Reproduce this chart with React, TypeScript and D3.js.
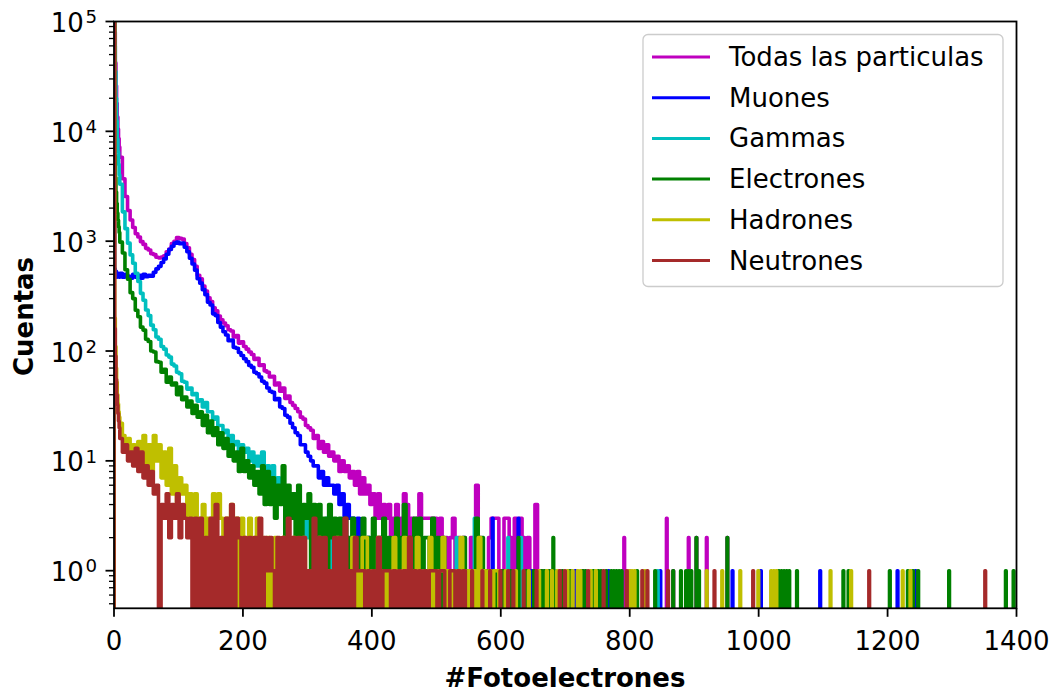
import React from "react";
import * as d3 from "d3";

// Photoelectron spectrum per particle type, step histograms on a log count axis.
const W = 1055;
const H = 692;
const plot = { left: 114, right: 1016.5, top: 21.5, bottom: 608.3 };

const xTicks = [0, 200, 400, 600, 800, 1000, 1200, 1400];
const yDecades = [0, 1, 2, 3, 4, 5];

// Head bins: bin 0 is the zero-photoelectron bin [0,1), bins 1..8 are 1 PE wide,
// from 9 PE onward the bins are 4 PE wide.
// Tail entries are single-PE bins [pe, pe+1) holding isolated counts.
const fineBins = 9;
const binWidth = 4;
const xMax = 1400;

const todasHead = [
  420000,
  80000, 42000, 26000, 18000, 13500, 10500, 8600, 7200,
  5800, 3700, 2550, 1900, 1560, 1330, 1170, 1090,
  990, 935, 860, 830, 770, 755, 715, 705, 718, 735,
  800, 850, 950, 1000, 1080, 1060, 1045, 950, 870, 760,
  680, 590, 490, 455, 390, 352, 305, 282, 248, 232,
  208, 192, 180, 170, 156, 152, 134, 138, 118, 121,
  110, 104, 98, 93, 84, 86, 74, 75, 66, 64,
  58, 59, 49, 51, 43, 46, 37, 39, 34, 32,
  30, 28, 25, 24, 21, 20, 19, 16, 17, 13,
  15, 12, 14, 11, 12, 10, 11, 8, 10, 8,
  9, 7, 8, 6, 8, 5, 7, 5, 6, 4,
  5, 3, 5, 3, 4, 3, 4, 2, 3, 4,
  2, 3, 5, 4, 2, 3, 2, 3, 5, 3,
  3, 3, 3, 3, 3, 2, 3, 1, 2, 1,
  2, 3, 1, 2, 1, 2, 1, 1, 2, 1,
  6, 2, 1, 1, 1, 2, 3, 3, 3, 1,
  1, 3, 3, 2, 1, 3, 1, 3, 2, 1,
  2, 1, 1, 4, 1, 1,
];
const todasTail: [number, number][] = [
  [675, 1], [691, 1], [707, 1], [727, 1], [791, 2], [799, 1], [857, 3],
  [867, 1], [891, 2], [903, 2], [919, 2], [951, 2],
];

const muonesHead = [
  130000,
  560, 490, 530, 470, 510, 480, 500, 470,
  510, 470, 500, 480, 460, 500, 470, 490,
  460, 500, 475, 490, 480, 520, 560, 590, 640, 690,
  760, 840, 900, 960, 980, 950, 960, 880, 800, 700,
  620, 545, 455, 415, 362, 326, 278, 262, 218, 210,
  182, 165, 150, 140, 124, 126, 108, 106, 97, 91,
  85, 80, 74, 71, 64, 62, 58, 53, 51, 46,
  43, 42, 36, 37, 31, 30, 26, 25, 22, 20,
  18, 17, 14, 14, 12, 11, 10, 9, 9, 7,
  8, 6, 7, 6, 6, 5, 6, 4, 5, 3,
  4, 3, 3, 2, 3, 2, 2, 1, 2, 1,
  2, 1, 0, 2, 1, 1, 0, 1, 2, 0, 1, 0, 1, 0, 1,
];
const muonesTail: [number, number][] = [
  [471, 1], [495, 1], [519, 1], [587, 3], [627, 3], [647, 1], [715, 1],
  [767, 1], [847, 1], [959, 1], [1003, 1], [1095, 1], [1215, 1], [1243, 1],
];

const gammasHead = [
  210000,
  60000, 35000, 20000, 12500, 8500, 6500, 5000, 4000,
  3300, 1850, 1300, 960, 750, 630, 510, 430,
  335, 290, 236, 210, 172, 156, 134, 128, 110, 104,
  92, 88, 76, 73, 64, 62, 53, 52, 45, 46,
  40, 41, 35, 36, 31, 34, 28, 28, 24, 25,
  21, 21, 18, 19, 15, 17, 14, 15, 12, 14,
  12, 13, 10, 12, 9, 11, 9, 12, 8, 9,
  7, 9, 6, 7, 5, 6, 4, 5, 4, 5,
  3, 4, 3, 2, 3, 2, 3, 2, 1, 2,
  2, 1, 3, 1, 2, 0, 1, 2, 1, 0,
  2, 1, 0, 1, 1, 0, 1, 0, 1, 0,
];
const gammasTail: [number, number][] = [
  [423, 1], [443, 2], [471, 1], [503, 1], [531, 2], [559, 3], [591, 1],
  [611, 2], [631, 2], [683, 1], [843, 1],
];

const electronesHead = [
  150000,
  6000, 3800, 2800, 2200, 1800, 1550, 1350, 1200,
  980, 780, 550, 450, 340, 300, 235, 205,
  165, 155, 128, 122, 100, 98, 80, 79, 64, 68,
  52, 58, 49, 51, 40, 47, 36, 38, 31, 35,
  27, 32, 25, 28, 21, 26, 18, 23, 17, 20,
  14, 18, 13, 16, 11, 14, 10, 12, 8, 13,
  8, 10, 7, 9, 6, 8, 5, 9, 4, 8,
  4, 7, 3, 6, 4, 9, 2, 6, 3, 5,
  2, 6, 1, 4, 3, 5, 1, 4, 2, 4,
  1, 3, 0, 4, 2, 3, 1, 3, 0, 3,
  2, 1, 3, 1, 2, 0, 3, 1, 2, 1,
  3, 0, 2, 1, 3, 1, 2, 0, 2, 3,
  1, 2, 4, 1, 2, 1, 3, 2, 3, 1,
  2, 2, 1, 3, 1, 2, 0, 2, 1, 1,
  0, 1, 1, 0, 1, 2, 1, 0, 1, 1,
  3, 1, 2, 1, 0, 1, 1, 0, 1, 1,
];
const electronesTail: [number, number][] = [
  [603, 1], [615, 1], [627, 2], [639, 1], [651, 1], [663, 1], [667, 1], [675, 1],
  [681, 2], [695, 1], [707, 1], [727, 1], [731, 1], [743, 1], [751, 1], [755, 1],
  [763, 1], [771, 1], [775, 1], [779, 1], [783, 1], [787, 1], [811, 1], [839, 1],
  [867, 1], [879, 1], [887, 1], [891, 1], [895, 1], [903, 2], [907, 1], [951, 2],
  [1031, 1], [1035, 1], [1039, 1], [1043, 1], [1047, 1], [1059, 1], [1131, 1],
  [1139, 1], [1203, 1], [1231, 1], [1239, 1], [1247, 1], [1295, 1], [1383, 1], [1395, 1],
];

const hadronesHead = [
  120000,
  200, 110, 70, 52, 40, 33, 28, 25,
  22, 17, 14, 16, 11, 14, 10, 15,
  12, 17, 9, 14, 8, 17, 10, 14, 7, 12,
  6, 13, 5, 9, 4, 7, 5, 6, 3, 5,
  3, 5, 2, 3, 4, 2, 3, 2, 5, 3,
  5, 3, 1, 3, 2, 4, 2, 3, 0, 3,
  2, 1, 3, 1, 2, 3, 1, 2, 0, 2,
  0, 1, 2, 1, 0, 2, 1, 1, 0, 2,
  1, 0, 1, 2, 1, 0, 1, 1, 0, 2,
  1, 0, 1, 1, 0, 1, 2, 1, 0, 1,
  0, 1, 2, 0, 1, 0, 2, 2, 1, 0,
  1, 0, 2, 1, 1, 0, 1, 0, 2, 1,
  0, 1, 2, 0, 1, 1, 0, 2, 1, 0,
  1, 1, 2, 0, 1, 1, 1, 2, 0, 1,
  1, 0, 1, 1, 2, 1, 0, 1, 0, 1,
  0, 2, 0, 1, 0, 1, 0, 1, 1, 0,
];
const hadronesTail: [number, number][] = [
  [607, 1], [623, 1], [643, 1], [659, 1], [671, 1], [679, 1], [687, 1], [703, 1],
  [711, 1], [719, 1], [723, 1], [739, 1], [747, 1], [799, 1], [803, 1], [807, 1],
  [823, 1], [919, 1], [943, 1], [971, 1], [999, 1], [1019, 1], [1023, 1], [1027, 1],
  [1111, 1], [1143, 1], [1223, 1], [1235, 1],
];

const neutronesHead = [
  110000,
  160, 90, 55, 40, 32, 27, 23, 20,
  16, 12, 14, 10, 12, 9, 13, 8,
  12, 7, 9, 6, 8, 5, 6, 0, 4, 3,
  5, 2, 4, 3, 5, 2, 4, 3, 2, 3,
  0, 3, 0, 3, 0, 2, 0, 3, 0, 4,
  0, 2, 0, 3, 0, 4, 0, 3, 2, 0,
  2, 0, 2, 0, 2, 0, 3, 0, 2, 1,
  2, 1, 0, 2, 0, 2, 0, 3, 0, 2,
  0, 2, 0, 2, 0, 1, 0, 3, 0, 2,
  0, 2, 0, 1, 0, 2, 0, 2, 0, 3,
  0, 1, 0, 2, 1, 1, 1, 0, 1, 0,
  1, 0, 2, 0, 1, 1, 1, 0, 1, 0,
  1, 0, 1, 0, 2, 0, 1, 0, 1, 0,
  1, 0, 1, 1, 1, 0, 1, 1, 0, 0,
  1, 1, 0, 1, 0, 1, 0,
];
const neutronesTail: [number, number][] = [
  [555, 1], [571, 1], [583, 1], [599, 1], [611, 1], [619, 1], [635, 1], [655, 1],
  [691, 1], [699, 1], [735, 1], [759, 1], [795, 1], [819, 1], [827, 1], [859, 1],
  [931, 1], [991, 1], [1171, 1], [1351, 1],
];

const series = [
  { label: "Todas las particulas", color: "#bf00bf", head: todasHead, tail: todasTail },
  { label: "Muones", color: "#0000ff", head: muonesHead, tail: muonesTail },
  { label: "Gammas", color: "#00bfbf", head: gammasHead, tail: gammasTail },
  { label: "Electrones", color: "#008000", head: electronesHead, tail: electronesTail },
  { label: "Hadrones", color: "#bfbf00", head: hadronesHead, tail: hadronesTail },
  { label: "Neutrones", color: "#a52a2a", head: neutronesHead, tail: neutronesTail },
];

type Bin = { x0: number; x1: number; v: number };

// Left edge of head bin k.
const headEdge = (k: number) => (k <= fineBins ? k : fineBins + binWidth * (k - fineBins));

function binsOf(head: number[], tail: [number, number][]): Bin[] {
  const bins: Bin[] = head.map((v, k) => ({ x0: headEdge(k), x1: headEdge(k + 1), v }));
  let cursor = headEdge(head.length);
  [...tail].sort((a, b) => a[0] - b[0]).forEach(([pe, n]) => {
    if (pe > cursor) bins.push({ x0: cursor, x1: pe, v: 0 });
    bins.push({ x0: pe, x1: pe + 1, v: n });
    cursor = pe + 1;
  });
  if (cursor < xMax) bins.push({ x0: cursor, x1: xMax, v: 0 });
  return bins;
}

const FONT = "DejaVu Sans, sans-serif";

export default function App() {
  const x = d3.scaleLinear().domain([0, xMax]).range([plot.left, plot.right]);
  const y = d3.scaleLog().domain([0.4546, 1e5]).range([plot.bottom, plot.top]);
  const yOf = (v: number) => (v > 0 ? y(v) : plot.bottom + 40);

  const stepPath = (bins: Bin[]) => {
    const pts: [number, number][] = [[x(bins[0].x0), yOf(0)]];
    bins.forEach((b) => {
      pts.push([x(b.x0), yOf(b.v)]);
      pts.push([x(b.x1), yOf(b.v)]);
    });
    pts.push([x(bins[bins.length - 1].x1), yOf(0)]);
    return d3.line()(pts) || "";
  };

  const minorTicks: number[] = [];
  for (let d = -1; d <= 4; d++) {
    for (let m = 2; m <= 9; m++) {
      const v = m * Math.pow(10, d);
      if (v >= 0.4546 && v <= 1e5) minorTicks.push(v);
    }
  }

  const legendRowY = (i: number) => 57 + 40.7 * i;

  return (
    <svg
      width={W}
      height={H}
      style={{ position: "absolute", left: 0, top: 0, background: "#fff" }}
      fontFamily={FONT}
    >
      <defs>
        <clipPath id="plotClip">
          <rect x={plot.left} y={plot.top} width={plot.right - plot.left} height={plot.bottom - plot.top} />
        </clipPath>
      </defs>
      <rect x={0} y={0} width={W} height={H} fill="#fff" />

      <g clipPath="url(#plotClip)">
        {series.map((s) => (
          <path
            key={s.label}
            d={stepPath(binsOf(s.head, s.tail))}
            fill="none"
            stroke={s.color}
            strokeWidth={3.6}
            strokeLinejoin="round"
            strokeLinecap="butt"
          />
        ))}
      </g>

      {/* axes frame */}
      <rect
        x={plot.left}
        y={plot.top}
        width={plot.right - plot.left}
        height={plot.bottom - plot.top}
        fill="none"
        stroke="#000"
        strokeWidth={1.8}
      />

      {/* x ticks */}
      {xTicks.map((t) => (
        <g key={"x" + t}>
          <line x1={x(t)} x2={x(t)} y1={plot.bottom} y2={plot.bottom + 8.5} stroke="#000" strokeWidth={1.8} />
          <text x={x(t)} y={650} textAnchor="middle" fontSize={26} fill="#000">
            {t}
          </text>
        </g>
      ))}

      {/* y ticks */}
      {minorTicks.map((v) => (
        <line key={"m" + v} x1={plot.left - 5} x2={plot.left} y1={y(v)} y2={y(v)} stroke="#000" strokeWidth={1.3} />
      ))}
      {yDecades.map((d) => {
        const ty = y(Math.pow(10, d));
        return (
          <g key={"y" + d}>
            <line x1={plot.left - 8.5} x2={plot.left} y1={ty} y2={ty} stroke="#000" strokeWidth={1.8} />
            <text x={97} y={ty + 10.5} textAnchor="end" fontSize={26} fill="#000">
              <tspan>10</tspan>
              <tspan dx={1.5} dy={-8.7} fontSize={18.2}>
                {d}
              </tspan>
            </text>
          </g>
        );
      })}

      {/* axis labels */}
      <text x={565} y={687} textAnchor="middle" fontSize={26} fontWeight="bold" fill="#000">
        #Fotoelectrones
      </text>
      <text
        transform="translate(33,316.5) rotate(-90)"
        textAnchor="middle"
        fontSize={26}
        fontWeight="bold"
        fill="#000"
      >
        Cuentas
      </text>

      {/* legend */}
      <g>
        <rect
          x={643}
          y={34.5}
          width={360}
          height={252}
          rx={5}
          ry={5}
          fill="#fff"
          fillOpacity={0.8}
          stroke="#cccccc"
          strokeWidth={1.3}
        />
        {series.map((s, i) => (
          <g key={"leg" + s.label}>
            <line x1={652} x2={710} y1={legendRowY(i)} y2={legendRowY(i)} stroke={s.color} strokeWidth={3} />
            <text x={729} y={legendRowY(i) + 9} fontSize={26} fill="#000">
              {s.label}
            </text>
          </g>
        ))}
      </g>
    </svg>
  );
}
